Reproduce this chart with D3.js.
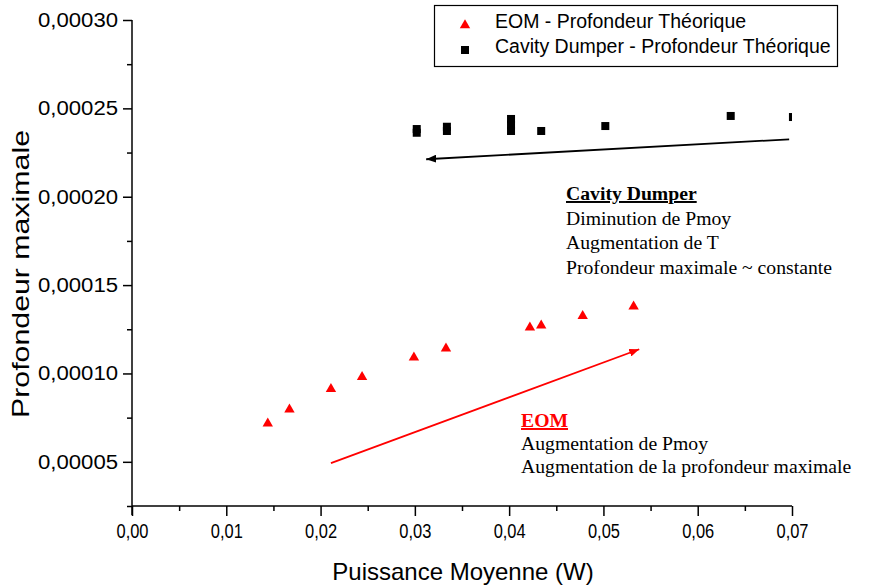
<!DOCTYPE html>
<html>
<head>
<meta charset="utf-8">
<script src="https://cdn.jsdelivr.net/npm/d3@7"></script>
<style>
  html, body { margin: 0; padding: 0; background: #fff; }
  svg { display: block; }
</style>
</head>
<body>
<svg id="chart" width="869" height="587"></svg>
<script>
// ---- data ----
const eomX = [0.0144, 0.0167, 0.0211, 0.0244, 0.0299, 0.0333, 0.0422, 0.0434, 0.0478, 0.0532];
const eomY = [0.0000724, 0.0000803, 0.0000919, 0.0000987, 0.0001097, 0.0001148, 0.0001267, 0.0001278, 0.0001332, 0.0001386];

const cdX = [0.0302, 0.0302, 0.0334, 0.0334, 0.0402, 0.0402, 0.0402, 0.0434, 0.0502, 0.0635, 0.0701];
const cdY = [0.0002383, 0.0002362, 0.0002396, 0.0002372, 0.000244, 0.0002406, 0.0002372, 0.0002372, 0.00024, 0.0002457, 0.0002451];

const xTicks = [0, 0.01, 0.02, 0.03, 0.04, 0.05, 0.06, 0.07];
const xMinorTicks = [0.005, 0.015, 0.025, 0.035, 0.045, 0.055, 0.065];
const yTicks = [0.00005, 0.0001, 0.00015, 0.0002, 0.00025, 0.0003];
const yMinorTicks = [0.000025, 0.000075, 0.000125, 0.000175, 0.000225, 0.000275];

const xLabels = ["0,00", "0,01", "0,02", "0,03", "0,04", "0,05", "0,06", "0,07"];
const yLabels = ["0,00005", "0,00010", "0,00015", "0,00020", "0,00025", "0,00030"];

const seriesNames = ["EOM - Profondeur Théorique", "Cavity Dumper - Profondeur Théorique"];
const xTitle = "Puissance Moyenne (W)";
const yTitle = "Profondeur maximale";

// annotation arrows (data units): [start, end], head at end
const cdArrow = [[0.0697, 0.0002325], [0.0312, 0.0002212]];
const eomArrow = [[0.0211, 0.0000493], [0.0538, 0.0001137]];

const cdNoteTitle = "Cavity Dumper";
const cdNoteLines = ["Diminution de Pmoy", "Augmentation de T", "Profondeur maximale ~ constante"];
const eomNoteTitle = "EOM";
const eomNoteLines = ["Augmentation de Pmoy", "Augmentation de la profondeur maximale"];

// ---- layout ----
const svg = d3.select("#chart");
const mL = 132, mR = 792, mT = 20, mB = 506;
const x = d3.scaleLinear().domain([0, 0.07]).range([mL, mR]);
const y = d3.scaleLinear().domain([0.000025, 0.0003]).range([mB, mT]);

const sans = "'Liberation Sans', Arial, sans-serif";
const serif = "'Liberation Serif', 'Times New Roman', serif";

svg.append("defs").html(`
  <clipPath id="plot"><rect x="${mL}" y="${mT - 10}" width="${mR - mL}" height="${mB - mT + 10}"/></clipPath>
  <marker id="headBlack" viewBox="0 0 10 8" refX="10" refY="4" markerWidth="10" markerHeight="8" markerUnits="userSpaceOnUse" orient="auto">
    <path d="M0,0 L10,4 L0,8 Z" fill="#000"/>
  </marker>
  <marker id="headRed" viewBox="0 0 10 8" refX="10" refY="4" markerWidth="10" markerHeight="8" markerUnits="userSpaceOnUse" orient="auto">
    <path d="M0,0 L10,4 L0,8 Z" fill="#ff0000"/>
  </marker>
`);

// axes
const xAxis = d3.axisBottom(x).tickValues(xTicks).tickSize(10).tickPadding(8)
  .tickFormat((d, i) => xLabels[i]);
const gx = svg.append("g").attr("transform", `translate(0,${mB})`).call(xAxis);
gx.select(".domain").attr("d", `M${mL},0H${mR}`);
gx.selectAll("text").attr("font-family", sans).attr("font-size", 20).attr("fill", "#000")
  .attr("textLength", 32).attr("lengthAdjust", "spacingAndGlyphs");
svg.append("g").attr("transform", `translate(0,${mB})`)
  .call(d3.axisBottom(x).tickValues(xMinorTicks).tickSize(5).tickFormat(""))
  .select(".domain").remove();

const yAxis = d3.axisLeft(y).tickValues(yTicks).tickSize(9).tickPadding(5)
  .tickFormat((d, i) => yLabels[i]);
const gy = svg.append("g").attr("transform", `translate(${mL},0)`).call(yAxis);
gy.select(".domain").attr("d", `M0,${mB + 9}V${mT}`);
gy.selectAll("text").attr("font-family", sans).attr("font-size", 20).attr("fill", "#000")
  .attr("textLength", 80).attr("lengthAdjust", "spacingAndGlyphs");
svg.append("g").attr("transform", `translate(${mL},0)`)
  .call(d3.axisLeft(y).tickValues(yMinorTicks).tickSize(5).tickFormat(""))
  .select(".domain").remove();

svg.selectAll(".domain, .tick line").attr("stroke", "#000").attr("stroke-width", 1.5);

// axis titles
svg.append("text").attr("x", 463).attr("y", 580)
  .attr("text-anchor", "middle").attr("font-family", sans).attr("font-size", 24)
  .text(xTitle);
svg.append("text").attr("transform", `translate(29,274) rotate(-90)`)
  .attr("text-anchor", "middle").attr("font-family", sans).attr("font-size", 24)
  .attr("textLength", 288).attr("lengthAdjust", "spacingAndGlyphs")
  .text(yTitle);

// data marks
const plot = svg.append("g").attr("clip-path", "url(#plot)");
const triPath = "M0,-4.8L5.2,4.2L-5.2,4.2Z";
plot.selectAll("path.eom").data(eomX).join("path").attr("class", "eom")
  .attr("d", triPath)
  .attr("transform", (d, i) => `translate(${x(d)},${y(eomY[i])})`)
  .attr("fill", "#ff0000");
plot.selectAll("rect.cd").data(cdX).join("rect").attr("class", "cd")
  .attr("x", d => x(d) - 4).attr("y", (d, i) => y(cdY[i]) - 4)
  .attr("width", 8).attr("height", 8).attr("fill", "#000");

// arrows
svg.append("line")
  .attr("x1", x(cdArrow[0][0])).attr("y1", y(cdArrow[0][1]))
  .attr("x2", x(cdArrow[1][0])).attr("y2", y(cdArrow[1][1]))
  .attr("stroke", "#000").attr("stroke-width", 1.8).attr("marker-end", "url(#headBlack)");
svg.append("line")
  .attr("x1", x(eomArrow[0][0])).attr("y1", y(eomArrow[0][1]))
  .attr("x2", x(eomArrow[1][0])).attr("y2", y(eomArrow[1][1]))
  .attr("stroke", "#ff0000").attr("stroke-width", 1.8).attr("marker-end", "url(#headRed)");

// annotations
function note(x0, y0, dy, title, color, lines) {
  svg.append("text").attr("x", x0).attr("y", y0)
    .attr("font-family", serif).attr("font-size", 19.7).attr("font-weight", "bold")
    .attr("fill", color).attr("text-decoration", "underline").text(title);
  lines.forEach((s, i) => {
    svg.append("text").attr("x", x0).attr("y", y0 + dy * (i + 1))
      .attr("font-family", serif).attr("font-size", 19.7).attr("fill", "#000").text(s);
  });
}
note(566, 200, 24.5, cdNoteTitle, "#000", cdNoteLines);
note(521, 427, 23, eomNoteTitle, "#ff0000", eomNoteLines);

// legend
const lg = svg.append("g");
lg.append("rect").attr("x", 434.5).attr("y", 5.5).attr("width", 403).attr("height", 61)
  .attr("fill", "#fff").attr("stroke", "#000").attr("stroke-width", 1.2);
lg.append("path").attr("d", triPath).attr("transform", "translate(465,24)").attr("fill", "#ff0000");
lg.append("rect").attr("x", 461).attr("y", 46).attr("width", 8).attr("height", 8).attr("fill", "#000");
lg.append("text").attr("x", 495).attr("y", 28).attr("font-family", sans).attr("font-size", 19.5)
  .text(seriesNames[0]);
lg.append("text").attr("x", 495).attr("y", 53).attr("font-family", sans).attr("font-size", 19.5)
  .text(seriesNames[1]);
</script>
</body>
</html>
